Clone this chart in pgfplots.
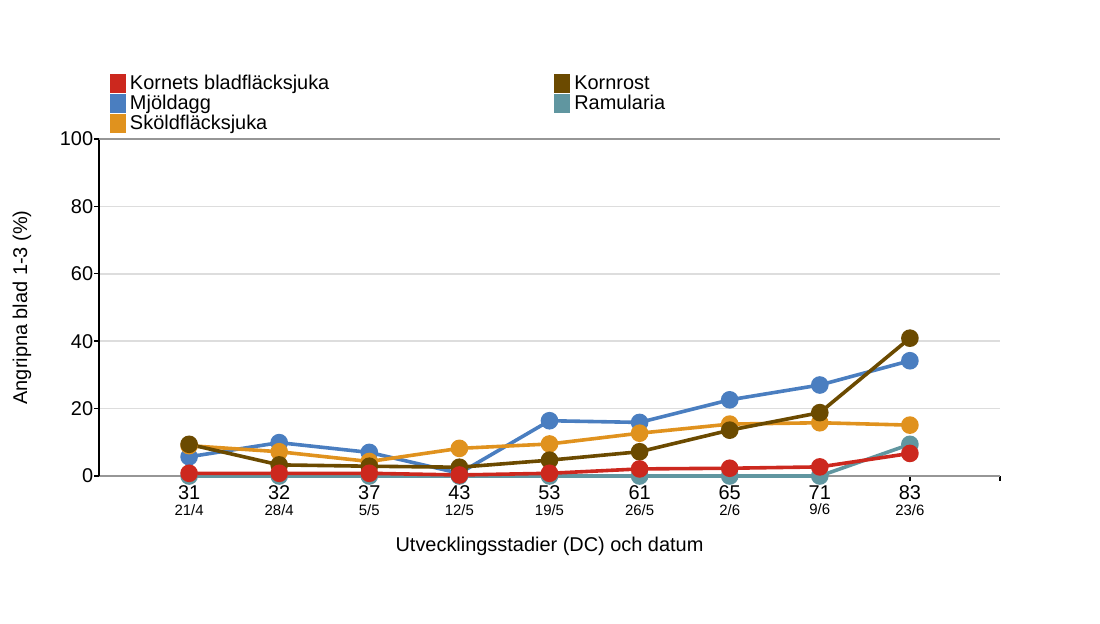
\documentclass[border=0pt]{standalone}
\usepackage{fontspec}
\setmainfont{Liberation Sans}
\usepackage{pgfplots}
\pgfplotsset{compat=1.18}

\definecolor{cKbf}{RGB}{204,40,30}
\definecolor{cMjo}{RGB}{74,126,192}
\definecolor{cSko}{RGB}{224,146,30}
\definecolor{cKro}{RGB}{107,74,0}
\definecolor{cRam}{RGB}{96,150,160}
\definecolor{cGrid}{RGB}{221,221,221}
\definecolor{cAxis}{RGB}{150,150,150}

\pgfplotsset{
  serie/.style={line width=3.6bp, mark=*, mark size=7bp, color=#1,
    mark options={solid, fill=#1, draw=none}},
}
\newcommand{\dat}[1]{{\fontsize{15}{15}\selectfont #1}}

\begin{document}
\fontsize{20}{23}\selectfont
\begin{tikzpicture}
\path[use as bounding box] (0bp,0bp) rectangle (1100bp,624bp);
\begin{axis}[
  at={(99bp,148bp)}, anchor=south west,
  width=901bp, height=337bp, scale only axis,
  xmin=-1, xmax=9, ymin=0, ymax=100,
  axis x line=bottom, axis y line=left,
  axis line style={-, line width=1.6bp},
  x axis line style={cAxis},
  xtick={0,...,9},
  xticklabels={
    {31\\\dat{21/4}}, {32\\\dat{28/4}}, {37\\\dat{5/5}},
    {43\\\dat{12/5}}, {53\\\dat{19/5}}, {61\\\dat{26/5}},
    {65\\\dat{2/6}}, {71\\\dat{9/6}}, {83\\\dat{23/6}}, {}},
  xticklabel style={align=center, font=\fontsize{20}{16}\selectfont, yshift=2.5bp},
  ytick={0,20,...,100},
  yticklabel style={font=\fontsize{20}{23}\selectfont, xshift=6bp},
  /pgf/number format/assume math mode=true,
  tick align=outside, major tick length=5bp,
  tick style={black, line width=1.4bp},
  ymajorgrids, major grid style={cGrid, line width=1.5bp},
  xlabel={Utvecklingsstadier (DC) och datum},
  xlabel style={at={(axis description cs:0.5,-0.21)}, anchor=center},
  ylabel={Angripna blad 1-3 (\%)},
  ylabel style={at={(axis description cs:-0.0855,0.5)}, anchor=center, rotate=0},
  clip=false,
  legend columns=2,
  legend cell align=left,
  legend image code/.code={\fill[#1, draw=none] (0bp,-8.5bp) rectangle (16bp,10.5bp);},
  legend style={at={(axis description cs:0.0122,1.1914)}, anchor=north west,
    draw=none, fill=none, inner sep=0pt, outer sep=0pt, row sep=0bp,
    font=\fontsize{20}{23}\selectfont,
    nodes={inner sep=0pt, outer sep=0pt, text height=14.5bp, text depth=4.5bp},
    /tikz/column 1/.style={column sep=4bp},
    /tikz/column 2/.style={column sep=225bp},
    /tikz/column 3/.style={column sep=4bp}},
]
% legend entries, laid out row by row in two columns
\addlegendimage{fill=cKbf, draw=none}\addlegendentry{Kornets bladfläcksjuka}
\addlegendimage{fill=cKro, draw=none}\addlegendentry{Kornrost}
\addlegendimage{fill=cMjo, draw=none}\addlegendentry{Mjöldagg}
\addlegendimage{fill=cRam, draw=none}\addlegendentry{Ramularia}
\addlegendimage{fill=cSko, draw=none}\addlegendentry{Sköldfläcksjuka}

% top border line at 100
\draw[cAxis, line width=1.6bp] (axis cs:-1,100) -- (axis cs:9,100);

% Ramularia
\addplot[serie=cRam, forget plot] coordinates {
  (0,0) (1,0) (2,0) (3,0) (4,0) (5,0) (6,0) (7,0) (8,9.4)};
% Mjöldagg
\addplot[serie=cMjo, forget plot] coordinates {
  (0,5.7) (1,9.9) (2,7.0) (3,0.8) (4,16.4) (5,15.9) (6,22.6) (7,27.0) (8,34.2)};
% Sköldfläcksjuka
\addplot[serie=cSko, forget plot] coordinates {
  (0,9.0) (1,7.2) (2,4.3) (3,8.2) (4,9.5) (5,12.7) (6,15.4) (7,15.8) (8,15.1)};
% Kornrost
\addplot[serie=cKro, forget plot] coordinates {
  (0,9.4) (1,3.3) (2,2.9) (3,2.6) (4,4.7) (5,7.2) (6,13.6) (7,18.8) (8,40.9)};
% Kornets bladfläcksjuka
\addplot[serie=cKbf, forget plot] coordinates {
  (0,0.8) (1,0.8) (2,0.8) (3,0.3) (4,0.8) (5,2.1) (6,2.3) (7,2.7) (8,6.7)};
\end{axis}
\end{tikzpicture}
\end{document}
